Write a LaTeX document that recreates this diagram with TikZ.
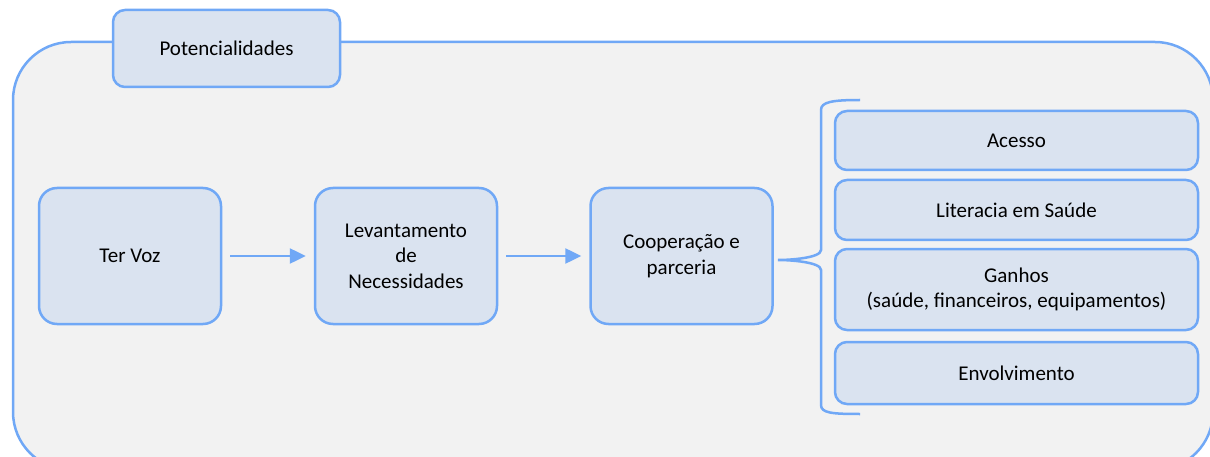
\documentclass[tikz,border=0pt]{standalone}
\usepackage{fontspec}
\setmainfont{Carlito}
\usetikzlibrary{arrows.meta}
\definecolor{lineblue}{RGB}{112,168,246}
\definecolor{boxfill}{RGB}{218,227,240}
\definecolor{panel}{RGB}{242,242,242}

\begin{document}
\begin{tikzpicture}[x=1pt, y=-1pt,
    box/.style={draw=lineblue, fill=boxfill, line width=2.5pt, rounded corners=18pt,
        align=center, inner sep=0pt, font=\fontsize{21}{25.6}\selectfont},
    stage/.style={box, minimum width=182pt, minimum height=136pt},
    item/.style={box, rounded corners=12pt, minimum width=363pt},
    link/.style={draw=lineblue, line width=2.5pt, -{Triangle[length=16pt,width=15pt]},
        shorten <=8pt, shorten >=8pt}]
            \useasboundingbox (0,0) rectangle (1210,457);
            \clip (0,0) rectangle (1210,457);
            \draw[lineblue, fill=panel, line width=2.5pt, rounded corners=58pt] (13,42) rectangle (1213,470);

            \node[box, rounded corners=12pt, minimum width=227pt, minimum height=77pt] (pot) at (226.5,48.5) {Potencialidades};

            \node[stage] (tervoz) at (130,256) {Ter Voz};
            \node[stage] (levant) at (406,256) {Levantamento\\de\\Necessidades};
            \node[stage] (coop) at (681.5,256) {Cooperação e\\parceria};
            \draw[link] (tervoz) -- (levant);
            \draw[link] (levant) -- (coop);

            \node[item, minimum height=59pt] (acesso) at (1016.5,140.5) {Acesso};
            \node[item, minimum height=60pt] (literacia) at (1016.5,210) {Literacia em Saúde};
            \node[item, minimum height=81pt] (ganhos) at (1016.5,289.5) {Ganhos\\(saúde, financeiros, equipamentos)};
            \node[item, minimum height=62pt] (envolv) at (1016.5,373) {Envolvimento};

            % chaveta
            \draw[lineblue, line width=2.5pt] (860,100) .. controls (832,100) and (821,102) .. (821,110)
                -- (821,250) .. controls (821,258) and (790,260) .. (778,260)
                .. controls (790,260) and (821,262) .. (821,270)
                -- (821,405) .. controls (821,413) and (832,414) .. (860,414);
        \end{tikzpicture}
\end{document}
